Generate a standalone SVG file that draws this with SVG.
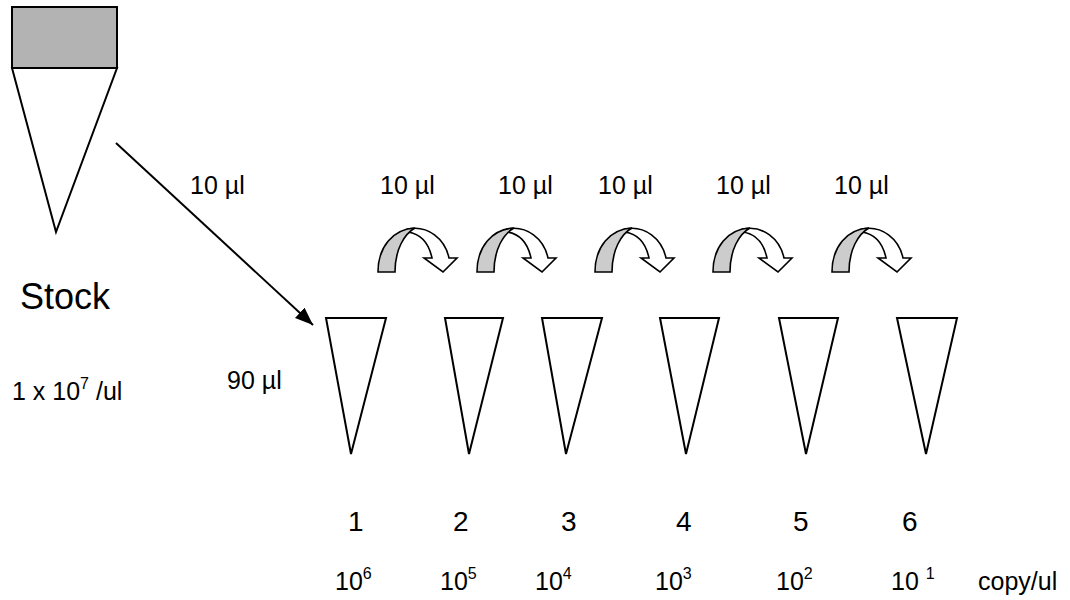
<svg xmlns="http://www.w3.org/2000/svg" xmlns:xlink="http://www.w3.org/1999/xlink" width="1070" height="600" viewBox="0 0 1070 600">
<style>
  text { font-family: "Liberation Sans", Arial, sans-serif; fill: #000; }
  .lbl { font-size: 25px; }
  .num { font-size: 28px; }
  .sup { font-size: 16px; }
  .tube { fill: #fff; stroke: #000; stroke-width: 2; stroke-linejoin: miter; }
  .cap { fill: #b3b3b3; stroke: #000; stroke-width: 2; }
  .conn { stroke: #000; stroke-width: 2; fill: none; }
  .cw { fill: #fff; stroke: #000; stroke-width: 1.6; stroke-linejoin: miter; }
  .cg { fill: #cccccc; stroke: #000; stroke-width: 1.6; stroke-linejoin: miter; }
</style>
<defs>
  <marker id="ah" markerUnits="userSpaceOnUse" markerWidth="20" markerHeight="16" refX="18" refY="7" orient="auto">
    <path d="M0,0 L18,7 L0,14 Z" fill="#000"/>
  </marker>
  <g id="curv">
    <path class="cw" d="M30,-43 C50,-47 67,-33 71,-14 L79,-14 L65,0 L46,-14 L54,-14 C51,-28 43,-38 30,-40 Z"/>
    <path class="cg" d="M0,0 C0,-25 15,-43 37,-44 C26,-38 17,-22 17,0 Z"/>
  </g>
</defs>
<rect width="1070" height="600" fill="#fff"/>

<g id="stock">
  <polygon class="tube" points="12,68 117,68 56,232"/>
  <rect class="cap" x="12" y="7" width="105" height="61"/>
  <text x="20" y="309" style="font-size:36px">Stock</text>
  <text class="lbl" x="12" y="400">1 x 10<tspan class="sup" dy="-11">7</tspan><tspan dy="11"> /ul</tspan></text>
</g>

<g id="connectors">
  <line class="conn" x1="116" y1="143" x2="313" y2="325" marker-end="url(#ah)"/>
  <text class="lbl" x="190" y="194">10 µl</text>
  <use xlink:href="#curv" href="#curv" transform="translate(378,272)"/>
  <use xlink:href="#curv" href="#curv" transform="translate(477,272)"/>
  <use xlink:href="#curv" href="#curv" transform="translate(595,272)"/>
  <use xlink:href="#curv" href="#curv" transform="translate(713,272)"/>
  <use xlink:href="#curv" href="#curv" transform="translate(832,272)"/>
  <text class="lbl" x="380" y="194">10 µl</text>
  <text class="lbl" x="498" y="194">10 µl</text>
  <text class="lbl" x="598" y="194">10 µl</text>
  <text class="lbl" x="716" y="194">10 µl</text>
  <text class="lbl" x="834" y="194">10 µl</text>
</g>

<text class="lbl" x="227" y="389">90 µl</text>

<g id="tube1">
  <polygon class="tube" points="326,318 386,318 351,454"/>
  <text class="num" x="348" y="531">1</text>
  <text class="lbl" x="335" y="590">10<tspan class="sup" dy="-11">6</tspan></text>
</g>
<g id="tube2">
  <polygon class="tube" points="445,318 503,318 469,454"/>
  <text class="num" x="453" y="531">2</text>
  <text class="lbl" x="440" y="590">10<tspan class="sup" dy="-11">5</tspan></text>
</g>
<g id="tube3">
  <polygon class="tube" points="542,318 602,318 566,454"/>
  <text class="num" x="561" y="531">3</text>
  <text class="lbl" x="535" y="590">10<tspan class="sup" dy="-11">4</tspan></text>
</g>
<g id="tube4">
  <polygon class="tube" points="660,318 719,318 686,454"/>
  <text class="num" x="676" y="531">4</text>
  <text class="lbl" x="655" y="590">10<tspan class="sup" dy="-11">3</tspan></text>
</g>
<g id="tube5">
  <polygon class="tube" points="779,318 838,318 806,454"/>
  <text class="num" x="793" y="531">5</text>
  <text class="lbl" x="776" y="590">10<tspan class="sup" dy="-11">2</tspan></text>
</g>
<g id="tube6">
  <polygon class="tube" points="897,318 957,318 926,454"/>
  <text class="num" x="902" y="531">6</text>
  <text class="lbl" x="891" y="590">10 <tspan class="sup" dy="-11">1</tspan></text>
</g>
<text class="lbl" x="978" y="590">copy/ul</text>
</svg>
